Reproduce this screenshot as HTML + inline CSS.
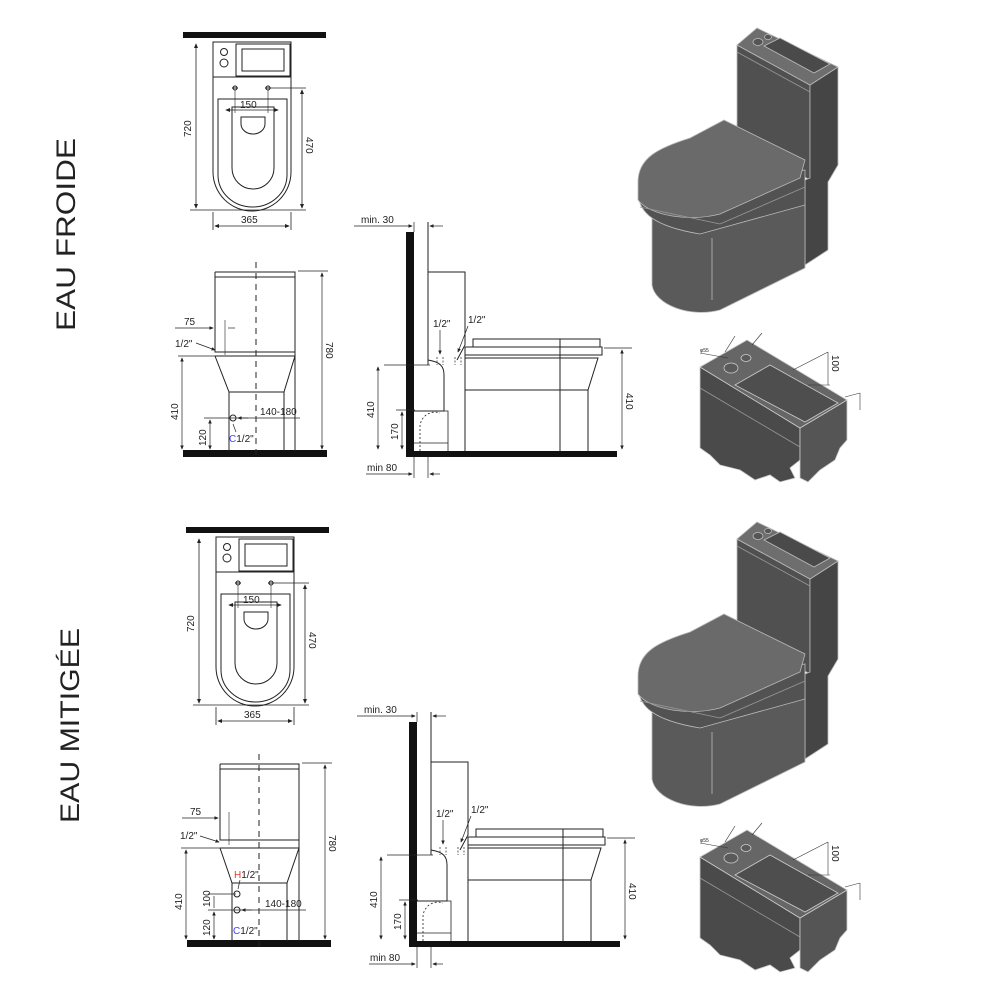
<!DOCTYPE html>
<html><head><meta charset="utf-8"><style>
html,body{margin:0;padding:0;background:#fff;width:1000px;height:1000px;overflow:hidden}
text{font-family:"Liberation Sans",sans-serif;fill:#222}
</style></head><body>
<svg width="1000" height="1000" viewBox="0 0 1000 1000" xmlns="http://www.w3.org/2000/svg">
<defs>
<marker id="a" markerWidth="6" markerHeight="6" refX="5" refY="3" orient="auto-start-reverse"><path d="M0,0.5 L6,3 L0,5.5z" fill="#222"/></marker>

<g id="plan" fill="none" stroke="#222" stroke-width="1">
  <rect x="183" y="32" width="143" height="6" fill="#111" stroke="none"/>
  <path d="M213,42 H291 V172 A39,39 0 0 1 213,172 Z"/>
  <line x1="213" y1="77" x2="291" y2="77"/>
  <rect x="236" y="44" width="54" height="32"/>
  <rect x="242" y="49" width="42" height="22"/>
  <circle cx="224" cy="52" r="3.5"/><circle cx="224" cy="63" r="4"/>
  <path d="M218,99 H287 V175 A34.5,32 0 0 1 218,175 Z"/>
  <path d="M232,107 H274 V168 A21,21 0 0 1 232,168 Z"/>
  <path d="M241,117 H265 V124 A12,10 0 0 1 241,124 Z"/>
  <circle cx="235" cy="88" r="2"/><circle cx="268" cy="88" r="2"/>
  <line x1="232" y1="88" x2="238" y2="88"/><line x1="265" y1="88" x2="271" y2="88"/>
  <line x1="196" y1="44" x2="196" y2="208" marker-start="url(#a)" marker-end="url(#a)" stroke-width="0.8"/>
  <line x1="190" y1="210" x2="306" y2="210" stroke-width="0.8"/>
  <line x1="270" y1="88" x2="306" y2="88" stroke-width="0.8"/>
  <line x1="302" y1="90" x2="302" y2="208" marker-start="url(#a)" marker-end="url(#a)" stroke-width="0.8"/>
  <line x1="213" y1="212" x2="213" y2="230" stroke-width="0.8"/><line x1="291" y1="212" x2="291" y2="230" stroke-width="0.8"/>
  <line x1="215" y1="226" x2="289" y2="226" marker-start="url(#a)" marker-end="url(#a)" stroke-width="0.8"/>
  <line x1="226" y1="110" x2="278" y2="110" marker-start="url(#a)" marker-end="url(#a)" stroke-width="0.8"/>
  <line x1="235" y1="90" x2="235" y2="113" stroke-width="0.6"/><line x1="268" y1="90" x2="268" y2="113" stroke-width="0.6"/>
</g>
<g id="plantxt" font-size="10">
  <text x="240" y="108" stroke="none">150</text>
  <text x="241" y="223" stroke="none">365</text>
  <text transform="translate(191,137) rotate(-90)" stroke="none">720</text>
  <text transform="translate(306,137) rotate(90)" stroke="none">470</text>
</g>

<g id="side" fill="none" stroke="#222" stroke-width="1">
  <rect x="406" y="232" width="8" height="225" fill="#111" stroke="none"/>
  <rect x="406" y="451" width="211" height="6" fill="#111" stroke="none"/>
  <line x1="428" y1="222" x2="428" y2="365"/>
  <line x1="414" y1="222" x2="414" y2="232" stroke-width="0.7"/>
  <line x1="354" y1="226" x2="412" y2="226" marker-end="url(#a)" stroke-width="0.7"/>
  <line x1="443" y1="226" x2="430" y2="226" marker-end="url(#a)" stroke-width="0.7"/>
  <path d="M428,272 H465 V345 L457,360 M428,272 V345"/>
  <path d="M428,360 C440,362 444,366 444,375 V411 H414"/>
  <path d="M414,411 H448 V451 M414,443 H448" stroke-width="0.8"/>
  <path d="M420,451 V427 A15,15 0 0 1 440,413" stroke-dasharray="2,2" stroke-width="0.8"/>
  <path d="M473,339 H600 V347 H473 Z"/>
  <path d="M465,347 H602 V355 H465"/>
  <path d="M465,358 H598 L588,390 V451 M465,347 V451 M465,390 H588 M560,339 V451"/>
  <line x1="384" y1="365" x2="430" y2="365" stroke-width="0.7"/>
  <line x1="378" y1="367" x2="378" y2="449" marker-start="url(#a)" marker-end="url(#a)" stroke-width="0.7"/>
  <line x1="396" y1="410" x2="415" y2="410" stroke-width="0.7"/>
  <line x1="402" y1="412" x2="402" y2="449" marker-start="url(#a)" marker-end="url(#a)" stroke-width="0.7"/>
  <line x1="604" y1="348" x2="632" y2="348" stroke-width="0.7"/>
  <line x1="622" y1="350" x2="622" y2="449" marker-start="url(#a)" marker-end="url(#a)" stroke-width="0.7"/>
  <line x1="414" y1="457" x2="414" y2="478" stroke-width="0.7"/><line x1="428" y1="457" x2="428" y2="478" stroke-width="0.7"/>
  <line x1="366" y1="474" x2="412" y2="474" marker-end="url(#a)" stroke-width="0.7"/>
  <line x1="440" y1="474" x2="430" y2="474" marker-end="url(#a)" stroke-width="0.7"/>
  <line x1="440" y1="330" x2="440" y2="354" marker-end="url(#a)" stroke-width="0.7"/>
  <line x1="468" y1="326" x2="458" y2="352" marker-end="url(#a)" stroke-width="0.7"/>
  <path d="M437,357 V365 M443,357 V365 M455,357 V365 M461,357 V365" stroke-dasharray="2,1.5" stroke-width="0.7"/>
</g>
<g id="sidetxt" font-size="10">
  <text x="361" y="223">min. 30</text>
  <text x="367" y="471">min 80</text>
  <text x="433" y="327">1/2"</text>
  <text x="468" y="323">1/2"</text>
  <text transform="translate(374,418) rotate(-90)">410</text>
  <text transform="translate(398,440) rotate(-90)">170</text>
  <text transform="translate(626,393) rotate(90)">410</text>
</g>

<g id="iso" stroke="#bbb" stroke-width="0.8">
  <!-- tank front (left) face -->
  <path d="M737,45 L810,85 V180 L737,140 Z" fill="#505050"/>
  <!-- tank/column right face -->
  <path d="M810,85 L838,67 V165 L828,182 V250 L805,265 V180 L810,178 Z" fill="#454545"/>
  <!-- tank top -->
  <path d="M737,45 L757,28 L838,67 L810,85 Z" fill="#6e6e6e"/>
  <path d="M764,46 L780,38 L830,64 L814,73 Z" fill="#4a4a4a"/>
  <ellipse cx="758" cy="42" rx="5" ry="3.5" fill="#555"/><ellipse cx="768" cy="37" rx="3.5" ry="2.5" fill="#555"/>
  <line x1="737" y1="52" x2="810" y2="92" stroke="#999"/>
  <!-- bowl body -->
  <path d="M652,218 V285 C655,305 690,318 720,310 L805,268 V195 Z" fill="#5a5a5a"/>
  <path d="M638,195 C640,212 652,226 700,234 L805,205 L805,170 L745,180 Z" fill="#525252"/>
  <!-- lid -->
  <path d="M638,182 C638,158 658,148 690,138 L724,120 L805,160 L800,178 L720,214 C690,222 650,216 638,200 Z" fill="#6a6a6a"/>
  <line x1="640" y1="207" x2="720" y2="224" stroke="#999"/>
  <line x1="720" y1="224" x2="805" y2="187" stroke="#999"/>
  <line x1="712" y1="300" x2="712" y2="238"/>
</g>

<g id="cist" stroke="#ccc" stroke-width="0.8">
  <path d="M700,367 L800,428 V460 L790,468 L795,478 L780,482 L770,475 L755,480 L740,470 L720,465 L710,455 L700,448 Z" fill="#4a4a4a"/>
  <path d="M800,428 L847,400 V440 L840,448 L835,460 L820,470 L808,482 L800,478 Z" fill="#555"/>
  <path d="M700,367 L747,340 L847,400 L800,428 Z" fill="#666"/>
  <path d="M735,385 L770,365 L838,403 L805,422 Z" fill="#4e4e4e"/>
  <ellipse cx="731" cy="368" rx="7" ry="5" fill="#5a5a5a"/><ellipse cx="746" cy="358" rx="5" ry="3.5" fill="#5a5a5a"/>
  <line x1="700" y1="388" x2="800" y2="447" stroke="#999"/>
  <g stroke="#333" stroke-width="0.6" fill="none">
    <line x1="793" y1="370" x2="828" y2="352"/><line x1="828" y1="352" x2="828" y2="385"/><line x1="808" y1="385" x2="830" y2="385"/>
    <line x1="845" y1="397" x2="860" y2="393"/><line x1="860" y1="393" x2="860" y2="410"/>
    <line x1="725" y1="352" x2="735" y2="336"/><line x1="752" y1="345" x2="762" y2="333"/>
    <line x1="700" y1="353" x2="728" y2="358"/>
  </g>
  <text transform="translate(832,355) rotate(90)" font-size="10" stroke="none" style="fill:#222">100</text>
  <text x="700" y="352" font-size="5" stroke="none" style="fill:#222">φ55</text>
</g>
</defs>

<text transform="translate(75,331) rotate(-90)" font-size="27" textLength="193" lengthAdjust="spacingAndGlyphs">EAU FROIDE</text>
<text transform="translate(79,823) rotate(-90)" font-size="27" textLength="195" lengthAdjust="spacingAndGlyphs">EAU MITIGÉE</text>

<use href="#plan"/><use href="#plantxt"/>
<use href="#side"/><use href="#sidetxt"/>
<use href="#iso"/><use href="#cist"/>

<g fill="none" stroke="#222" stroke-width="1">
  <rect x="183" y="450" width="144" height="7" fill="#111" stroke="none"/>
  <path d="M215,272 H295 V451 M215,272 V352 H295 M215,356 H295 L284,392 V451 M215,356 L229,392 V451 M229,392 H284 M215,277 H295"/>
  <line x1="256" y1="262" x2="256" y2="460" stroke-dasharray="6,5"/>
  <line x1="298" y1="271" x2="328" y2="271" stroke-width="0.7"/>
  <line x1="322" y1="273" x2="322" y2="449" marker-start="url(#a)" marker-end="url(#a)" stroke-width="0.7"/>
  <line x1="178" y1="356" x2="216" y2="356" stroke-width="0.7"/>
  <line x1="182" y1="358" x2="182" y2="449" marker-start="url(#a)" marker-end="url(#a)" stroke-width="0.7"/>
  <line x1="204" y1="418" x2="300" y2="418" stroke-width="0.7"/>
  <line x1="210" y1="420" x2="210" y2="449" marker-start="url(#a)" marker-end="url(#a)" stroke-width="0.7"/>
  <circle cx="233" cy="418" r="3"/>
  <line x1="248" y1="418" x2="238" y2="418" marker-end="url(#a)" stroke-width="0.7"/>
  <line x1="175" y1="328" x2="213" y2="328" marker-end="url(#a)" stroke-width="0.7"/>
  <line x1="228" y1="328" x2="235" y2="328" stroke-width="0.7"/>
  <line x1="225" y1="320" x2="225" y2="355" stroke-width="0.6"/>
  <line x1="196" y1="343" x2="215" y2="350" marker-end="url(#a)" stroke-width="0.7"/>
  <line x1="233" y1="424" x2="236" y2="432" stroke-width="0.7"/>
</g>
<g font-size="10">
  <text x="184" y="325">75</text>
  <text x="175" y="347">1/2"</text>
  <text x="260" y="415">140-180</text>
  <text x="229" y="442"><tspan style="fill:#44f">C</tspan>1/2"</text>
  <text transform="translate(178,420) rotate(-90)">410</text>
  <text transform="translate(206,446) rotate(-90)">120</text>
  <text transform="translate(326,342) rotate(90)">780</text>
</g>

<use href="#plan" transform="translate(3,495)"/><use href="#plantxt" transform="translate(3,495)"/>
<use href="#side" transform="translate(3,490)"/><use href="#sidetxt" transform="translate(3,490)"/>
<use href="#iso" transform="translate(0,494)"/><use href="#cist" transform="translate(0,490)"/>

<g fill="none" stroke="#222" stroke-width="1">
  <rect x="187" y="940" width="144" height="7" fill="#111" stroke="none"/>
  <path d="M220,764 H299 V941 M220,764 V840 H299 M220,848 H299 L287,883 V941 M220,848 L232,883 V941 M232,883 H287 M220,769 H299"/>
  <line x1="259" y1="754" x2="259" y2="950" stroke-dasharray="6,5"/>
  <line x1="302" y1="763" x2="332" y2="763" stroke-width="0.7"/>
  <line x1="325" y1="765" x2="325" y2="939" marker-start="url(#a)" marker-end="url(#a)" stroke-width="0.7"/>
  <line x1="181" y1="848" x2="220" y2="848" stroke-width="0.7"/>
  <line x1="186" y1="850" x2="186" y2="939" marker-start="url(#a)" marker-end="url(#a)" stroke-width="0.7"/>
  <line x1="208" y1="894" x2="236" y2="894" stroke-width="0.7"/>
  <line x1="208" y1="910" x2="306" y2="910" stroke-width="0.7"/>
  <line x1="214" y1="896" x2="214" y2="908" stroke-width="0.7"/>
  <line x1="214" y1="912" x2="214" y2="939" marker-start="url(#a)" marker-end="url(#a)" stroke-width="0.7"/>
  <circle cx="237" cy="894" r="3"/><circle cx="237" cy="910" r="3"/>
  <line x1="252" y1="910" x2="242" y2="910" marker-end="url(#a)" stroke-width="0.7"/>
  <line x1="182" y1="818" x2="218" y2="818" marker-end="url(#a)" stroke-width="0.7"/>
  <line x1="229" y1="812" x2="229" y2="845" stroke-width="0.6"/>
  <line x1="200" y1="836" x2="219" y2="842" marker-end="url(#a)" stroke-width="0.7"/>
  <line x1="240" y1="880" x2="238" y2="889" stroke-width="0.7"/>
</g>
<g font-size="10">
  <text x="190" y="815">75</text>
  <text x="180" y="839">1/2"</text>
  <text x="234" y="878"><tspan style="fill:#e33">H</tspan>1/2"</text>
  <text x="265" y="907">140-180</text>
  <text x="233" y="934"><tspan style="fill:#44f">C</tspan>1/2"</text>
  <text transform="translate(182,910) rotate(-90)">410</text>
  <text transform="translate(210,907) rotate(-90)">100</text>
  <text transform="translate(210,936) rotate(-90)">120</text>
  <text transform="translate(329,835) rotate(90)">780</text>
</g>
</svg>
</body></html>
